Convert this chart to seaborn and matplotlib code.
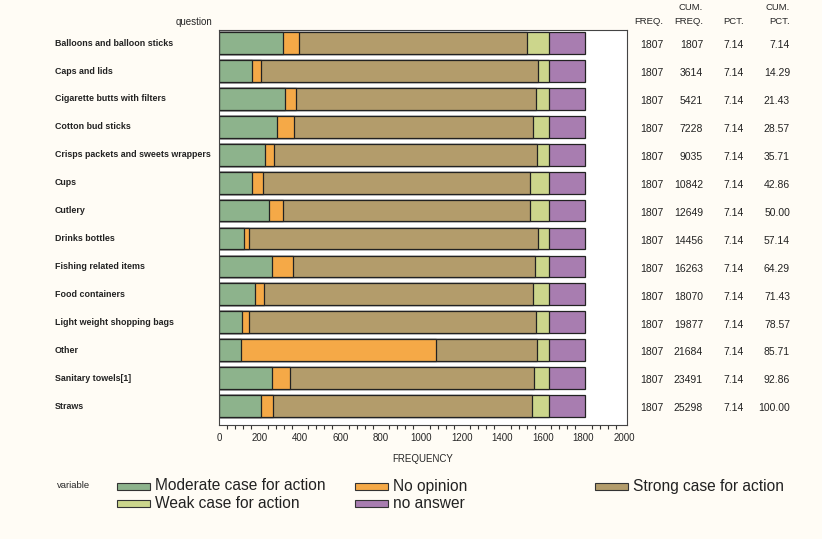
import numpy as np
import pandas as pd
import matplotlib
matplotlib.use("Agg")
import matplotlib.pyplot as plt
import seaborn as sns
from matplotlib.patches import Rectangle
from matplotlib.ticker import MultipleLocator

# data (counts per answer for each question)
questions = ['Balloons and balloon sticks', 'Caps and lids', 'Cigarette butts with filters',
             'Cotton bud sticks', 'Crisps packets and sweets wrappers', 'Cups', 'Cutlery',
             'Drinks bottles', 'Fishing related items', 'Food containers',
             'Light weight shopping bags', 'Other', 'Sanitary towels[1]', 'Straws']
variables = ['Moderate case for action', 'No opinion', 'Strong case for action',
             'Weak case for action', 'no answer']
moderate = [315, 161, 327, 287, 225, 164, 245, 125, 263, 179, 115, 107, 263, 208]
no_opinion = [82, 44, 54, 84, 47, 54, 72, 24, 103, 43, 33, 963, 90, 59]
strong = [1126, 1372, 1183, 1180, 1297, 1318, 1219, 1425, 1196, 1329, 1416, 499, 1204, 1279]
weak = [107, 53, 66, 79, 61, 94, 94, 56, 68, 79, 66, 61, 73, 84]
no_answer = [177] * 14

colors = ['#8db38c', '#f5a947', '#b39c6b', '#ccd68c', '#a87db0']
bg = '#fffcf5'

df = pd.DataFrame({'question': questions, variables[0]: moderate, variables[1]: no_opinion,
                   variables[2]: strong, variables[3]: weak, variables[4]: no_answer})
cum = df[variables].cumsum(axis=1)
cum['question'] = df['question']

sns.set_style('white')
plt.rcParams['font.family'] = ['Liberation Sans', 'DejaVu Sans']

fig = plt.figure(figsize=(8.22, 5.39), dpi=100, facecolor=bg)
ax = fig.add_axes([219 / 822, 1 - 425 / 539, 408 / 822, 395 / 539])
ax.set_facecolor('white')

# stacked bars: draw cumulative totals from the widest down
for var, col in reversed(list(zip(variables, colors))):
    sns.barplot(data=cum, x=var, y='question', orient='h', color=col, width=0.78,
                edgecolor='#222222', linewidth=0.9, ax=ax, saturation=1)

ax.set_xlim(0, 2015)
ax.set_ylim(13.68, -0.47)
ax.xaxis.set_major_locator(MultipleLocator(200))
ax.xaxis.set_minor_locator(MultipleLocator(40))
ax.tick_params(axis='x', which='major', length=5, width=0.8, labelsize=7, color='#333333', pad=1)
ax.tick_params(axis='x', which='minor', length=3, width=0.8, color='#333333', bottom=True)
ax.tick_params(axis='y', left=False, labelleft=False)
ax.set_xlabel('FREQUENCY', fontsize=7, labelpad=8)
ax.set_ylabel('')
for s in ax.spines.values():
    s.set_color('#444444')
    s.set_linewidth(0.8)

ytr = ax.get_yaxis_transform()
for i, q in enumerate(questions):
    ax.text(-0.402, i, q, transform=ytr, ha='left', va='center', fontsize=6.4,
            fontweight='bold', color='#222222')

fig.text(212 / 822, 1 - 22 / 539, 'question', ha='right', va='center', fontsize=7)

# frequency table on the right
freq = df[variables].sum(axis=1).to_numpy()
cumfreq = np.cumsum(freq)
pct = 100 * freq / freq.sum()
cumpct = np.cumsum(pct)
cols_x = [663, 703, 744, 790]
heads = [('', 'FREQ.'), ('CUM.', 'FREQ.'), ('', 'PCT.'), ('CUM.', 'PCT.')]
for xp, (h1, h2) in zip(cols_x, heads):
    fig.text(xp / 822, 1 - 21 / 539, h2, ha='right', va='center', fontsize=6.8)
    if h1:
        fig.text(xp / 822, 1 - 8 / 539, h1, ha='right', va='center', fontsize=6.8)
for i in range(len(questions)):
    vals = [f'{freq[i]}', f'{cumfreq[i]}', f'{pct[i]:.2f}', f'{cumpct[i]:.2f}']
    for xp, v in zip(cols_x, vals):
        ax.text((xp - 219) / 408, i + 0.08, v, transform=ytr, ha='right', va='center',
                fontsize=7.5, color='#222222')

# legend laid out like the original (fixed column positions)
fig.text(57 / 822, 1 - 486 / 539, 'variable', ha='left', va='center', fontsize=6.8)
leg_pos = [(117, 486), (355, 486), (595, 486), (117, 503), (355, 503)]
for (px, py), lab, col in zip(leg_pos, variables, colors):
    fig.add_artist(Rectangle((px / 822, 1 - (py + 3.5) / 539), 33 / 822, 7 / 539,
                             transform=fig.transFigure, facecolor=col,
                             edgecolor='#333333', linewidth=0.8))
    fig.text((px + 38) / 822, 1 - py / 539, lab, ha='left', va='center', fontsize=11.2,
             color='#222222')

fig.savefig('out.png', dpi=100, facecolor=bg)
